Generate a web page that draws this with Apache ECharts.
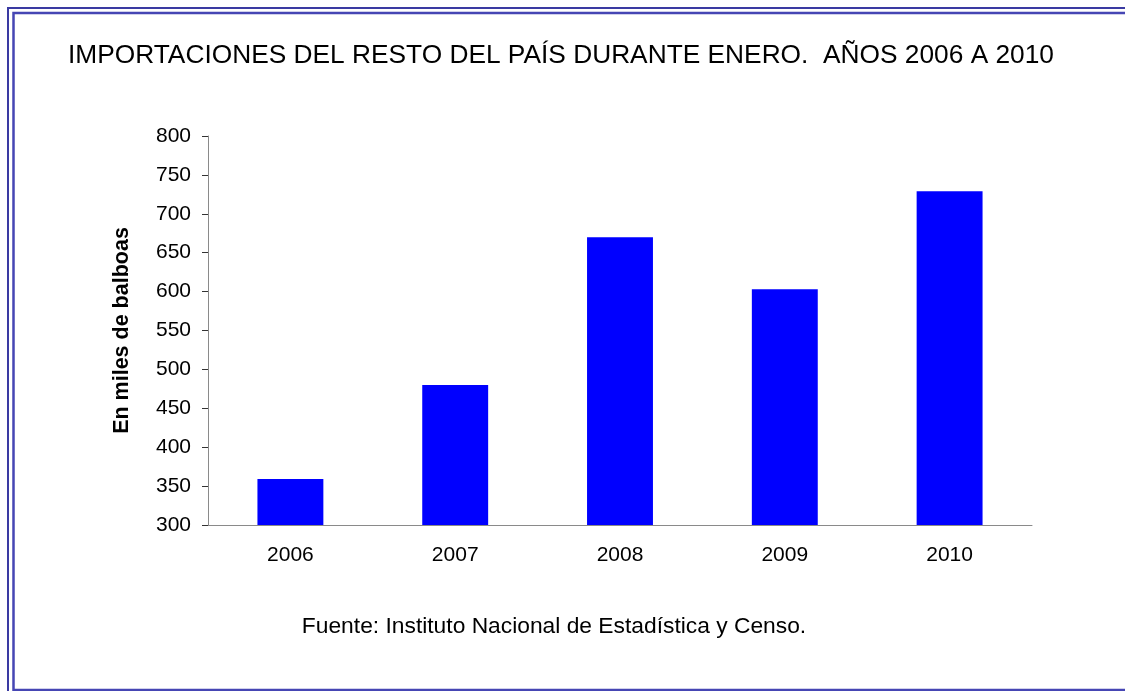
<!DOCTYPE html>
<html>
<head>
<meta charset="utf-8">
<script src="https://cdn.jsdelivr.net/npm/echarts@6/dist/echarts.min.js"></script>
<style>
	html,body{margin:0;padding:0;background:#fff;}
	#chart{width:1125px;height:691px;}
</style>
</head>
<body>
<div id="chart"></div>
<script>
	// datos
	var years = ['2006', '2007', '2008', '2009', '2010']
	var importaciones = [359, 480, 670, 603, 729]
	var titulo = 'IMPORTACIONES DEL RESTO DEL PAÍS DURANTE ENERO.  AÑOS 2006 A 2010'
	var fuente = 'Fuente: Instituto Nacional de Estadística y Censo.'
	var ejeY = 'En miles de balboas'

	var font = 'Liberation Sans, Arial, sans-serif'
	var chart = echarts.init(document.getElementById('chart'))
	chart.setOption({
		animation: false,
		backgroundColor: '#fff',
		grid: { left: 208, right: 93, top: 136, bottom: 166 },
		xAxis: {
			type: 'category',
			data: years,
			axisLine: { lineStyle: { color: '#8a8a8a', width: 1 } },
			axisTick: { length: 6, lineStyle: { color: '#333' } },
			axisLabel: { color: '#000', fontSize: 21, fontFamily: font, margin: 20 }
		},
		yAxis: {
			type: 'value',
			min: 300,
			max: 800,
			interval: 50,
			name: ejeY,
			nameLocation: 'middle',
			nameGap: 75,
			nameRotate: 90,
			nameTextStyle: { color: '#000', fontSize: 21.5, fontWeight: 'bold', fontFamily: font },
			axisLine: { show: true, lineStyle: { color: '#8a8a8a', width: 1 } },
			axisTick: { show: true, length: 6, lineStyle: { color: '#333' } },
			axisLabel: { color: '#000', fontSize: 21, fontFamily: font, margin: 17 },
			splitLine: { show: false }
		},
		series: [
			{
				type: 'bar',
				data: importaciones,
				barCategoryGap: '60%',
				itemStyle: { color: '#0000ff' }
			}
		],
		graphic: [
			{
				type: 'rect',
				shape: { x: 8, y: 8, width: 1300, height: 900 },
				style: { fill: null, stroke: '#3a3aa2', lineWidth: 2 }
			},
			{
				type: 'rect',
				shape: { x: 13.5, y: 13, width: 1300, height: 677 },
				style: { fill: null, stroke: '#4646b4', lineWidth: 2.5 }
			},
			{
				type: 'text',
				x: 561, y: 56,
				style: { text: titulo, fill: '#000', font: '26.3px ' + font, textAlign: 'center', textVerticalAlign: 'middle' }
			},
			{
				type: 'text',
				x: 554, y: 627,
				style: { text: fuente, fill: '#000', font: '22.8px ' + font, textAlign: 'center', textVerticalAlign: 'middle' }
			}
		]
	})
</script>
</body>
</html>
